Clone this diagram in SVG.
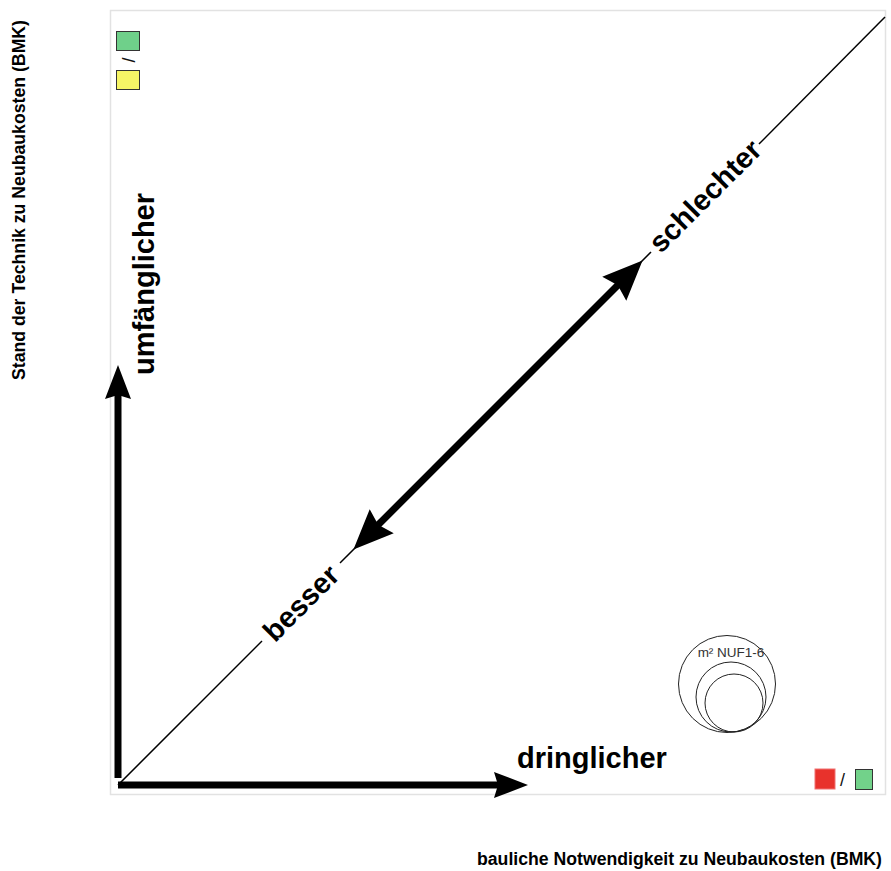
<svg xmlns="http://www.w3.org/2000/svg" width="891" height="871" viewBox="0 0 891 871">
<style>
.lbl{font-family:"Liberation Sans",Arial,sans-serif;font-weight:bold;fill:#000}
.big{font-size:29px}
.axis{font-size:17.5px}
.slash{font-family:"Liberation Sans",Arial,sans-serif;font-size:18px;fill:#111}
.thin{stroke:#000;stroke-width:1.5;fill:none}
.thick{stroke:#000;stroke-width:7;fill:none}
.circ{stroke:#222;stroke-width:1;fill:none}
.sq{stroke:#333;stroke-width:1}
</style>
<defs>
<marker id="ahS" markerUnits="userSpaceOnUse" markerWidth="40" markerHeight="30" viewBox="0 -15 36 30" refX="14" refY="0" orient="auto-start-reverse">
<path d="M0,-13 L34,0 L0,13 L4,0 Z" fill="#000"/>
</marker>
<marker id="ahL" markerUnits="userSpaceOnUse" markerWidth="44" markerHeight="40" viewBox="0 -20 42 40" refX="18" refY="0" orient="auto-start-reverse">
<path d="M0,-17 L40,0 L0,17 L5,0 Z" fill="#000"/>
</marker>
</defs>
<rect width="891" height="871" fill="#fff"/>
<rect id="frame" x="110.5" y="10.5" width="775" height="784" fill="none" stroke="#e2e2e2" stroke-width="1.5"/>
<g id="connectors">
<line class="thin" x1="118" y1="785" x2="262" y2="641"/>
<line class="thin" x1="340" y1="563" x2="651" y2="252"/>
<line class="thin" x1="759" y1="144" x2="885" y2="17"/>
<line class="thick" x1="118" y1="778" x2="118" y2="385" marker-end="url(#ahS)"/>
<line class="thick" x1="118" y1="785" x2="508" y2="785" marker-end="url(#ahS)"/>
<line class="thick" x1="369" y1="534" x2="627" y2="276" marker-start="url(#ahL)" marker-end="url(#ahL)"/>
</g>
<g id="label-umfaenglicher"><text class="lbl big" transform="translate(154,284) rotate(-90)" text-anchor="middle">umfänglicher</text></g>
<g id="label-dringlicher"><text class="lbl big" x="517" y="768">dringlicher</text></g>
<g id="label-schlechter"><text class="lbl big" transform="translate(705,196) rotate(-45)" text-anchor="middle" dominant-baseline="central">schlechter</text></g>
<g id="label-besser"><text class="lbl big" transform="translate(301,603) rotate(-45)" text-anchor="middle" dominant-baseline="central">besser</text></g>
<g id="axis-y"><text class="lbl axis" transform="translate(25,200) rotate(-90)" text-anchor="middle" textLength="360" lengthAdjust="spacingAndGlyphs">Stand der Technik zu Neubaukosten (BMK)</text></g>
<g id="axis-x"><text class="lbl axis" x="477" y="865" textLength="405" lengthAdjust="spacingAndGlyphs">bauliche Notwendigkeit zu Neubaukosten (BMK)</text></g>
<g id="legend-top">
<rect class="sq" x="116.5" y="31.5" width="23" height="19" fill="#6fd08a"/>
<text class="slash" transform="translate(135,60) rotate(-90)" text-anchor="middle">/</text>
<rect class="sq" x="116.5" y="70.5" width="23" height="19" fill="#f6f566"/>
</g>
<g id="legend-bottom">
<rect x="815" y="769" width="20" height="20" fill="#e8322c" stroke="#f07070" stroke-width="1"/>
<text class="slash" x="840" y="786">/</text>
<rect class="sq" x="855.5" y="769.5" width="17" height="20" fill="#72d28a"/>
</g>
<g id="size-legend">
<circle class="circ" cx="727" cy="684" r="48.5"/>
<circle class="circ" cx="731" cy="697" r="35"/>
<circle class="circ" cx="734" cy="703" r="29"/>
<text x="731" y="657" text-anchor="middle" style="font-family:'Liberation Sans',Arial,sans-serif;font-size:13.5px;fill:#333">m² NUF1-6</text>
</g>
</svg>
